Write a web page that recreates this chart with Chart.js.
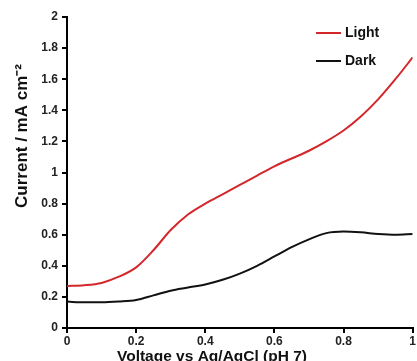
<!DOCTYPE html>
<html lang="en">
  <head>
    <meta charset="UTF-8" />
    <title>Current vs Voltage</title>
    <script src="https://cdn.jsdelivr.net/npm/chart.js"></script>
    <style>
      html, body {
        margin: 0;
        padding: 0;
        background: #fff;
        overflow: hidden;
      }
      .box {
        width: 417px;
        height: 361px;
      }
    </style>
  </head>
  <body>
    <div class="box"><canvas id="ivChart"></canvas></div>

    <script>
      // data
      var voltage = [0, 0.05, 0.1, 0.15, 0.2, 0.25, 0.3, 0.35, 0.4, 0.45, 0.5,
        0.55, 0.6, 0.65, 0.7, 0.75, 0.8, 0.85, 0.9, 0.95, 1];
      var lightCurrent = [0.27, 0.275, 0.29, 0.33, 0.39, 0.5, 0.63, 0.73, 0.8, 0.86, 0.92,
        0.98, 1.04, 1.09, 1.14, 1.2, 1.27, 1.36, 1.47, 1.6, 1.74];
      var darkCurrent = [0.17, 0.165, 0.165, 0.17, 0.18, 0.21, 0.24, 0.26, 0.28, 0.31, 0.35,
        0.4, 0.46, 0.52, 0.57, 0.61, 0.62, 0.615, 0.605, 0.6, 0.605];
      var seriesNames = ["Light", "Dark"];
      var xTicks = [0, 0.2, 0.4, 0.6, 0.8, 1];
      var yTicks = [0, 0.2, 0.4, 0.6, 0.8, 1, 1.2, 1.4, 1.6, 1.8, 2];
      var xTitle = "Voltage vs Ag/AgCl (pH 7)";
      var yTitle = "Current / mA cm\u207B\u00B2";

      function pts(ys) {
        return voltage.map(function (v, i) { return { x: v, y: ys[i] }; });
      }

      var fontFam = "'Liberation Sans', Arial, sans-serif";

      // axis titles (off-centre like the original) and the legend inside the plot
      var extras = {
        id: "extras",
        afterDraw: function (chart) {
          var ctx = chart.ctx;
          ctx.save();
          ctx.fillStyle = "#111";
          ctx.textAlign = "center";
          ctx.textBaseline = "middle";
          ctx.font = "bold 15.5px " + fontFam;
          ctx.fillText(xTitle, 212, 357);

          ctx.save();
          ctx.translate(22, 136);
          ctx.rotate(-Math.PI / 2);
          ctx.font = "bold 17px " + fontFam;
          ctx.fillText(yTitle, 0, 0);
          ctx.restore();

          ctx.textAlign = "left";
          ctx.font = "bold 14px " + fontFam;
          chart.data.datasets.forEach(function (ds, i) {
            var y = 33 + i * 28;
            ctx.strokeStyle = ds.borderColor;
            ctx.lineWidth = 2;
            ctx.beginPath();
            ctx.moveTo(316, y);
            ctx.lineTo(341, y);
            ctx.stroke();
            ctx.fillText(ds.label, 345, y);
          });
          ctx.restore();
        },
      };

      var ivChart = new Chart(document.getElementById("ivChart"), {
        type: "line",
        data: {
          datasets: [
            {
              label: seriesNames[0],
              data: pts(lightCurrent),
              borderColor: "#d3272b",
              borderWidth: 2,
              pointRadius: 0,
              cubicInterpolationMode: "monotone",
            },
            {
              label: seriesNames[1],
              data: pts(darkCurrent),
              borderColor: "#111111",
              borderWidth: 2,
              pointRadius: 0,
              cubicInterpolationMode: "monotone",
            },
          ],
        },
        options: {
          responsive: true,
          maintainAspectRatio: false,
          animation: false,
          layout: { padding: { top: 17, right: 4, left: 0, bottom: 0 } },
          plugins: {
            legend: { display: false },
            tooltip: { enabled: false },
          },
          scales: {
            x: {
              type: "linear",
              min: 0,
              max: 1,
              afterBuildTicks: function (axis) {
                axis.ticks = xTicks.map(function (v) { return { value: v }; });
              },
              afterFit: function (axis) { axis.height = 33; },
              border: { color: "#000", width: 2 },
              grid: {
                drawOnChartArea: false,
                drawTicks: true,
                tickLength: 5,
                color: "#000",
                lineWidth: 2,
              },
              ticks: {
                padding: 1,
                maxRotation: 0,
                color: "#222",
                font: { family: fontFam, size: 12, weight: "bold" },
                callback: function (v) { return String(Math.round(v * 10) / 10); },
              },
            },
            y: {
              min: 0,
              max: 2,
              afterBuildTicks: function (axis) {
                axis.ticks = yTicks.map(function (v) { return { value: v }; });
              },
              afterFit: function (axis) { axis.width = 67; },
              border: { color: "#000", width: 2 },
              grid: {
                drawOnChartArea: false,
                drawTicks: true,
                tickLength: 5,
                color: "#000",
                lineWidth: 2,
              },
              ticks: {
                padding: 4,
                color: "#222",
                font: { family: fontFam, size: 12, weight: "bold" },
                callback: function (v) { return String(Math.round(v * 10) / 10); },
              },
            },
          },
        },
        plugins: [extras],
      });
    </script>
  </body>
</html>
